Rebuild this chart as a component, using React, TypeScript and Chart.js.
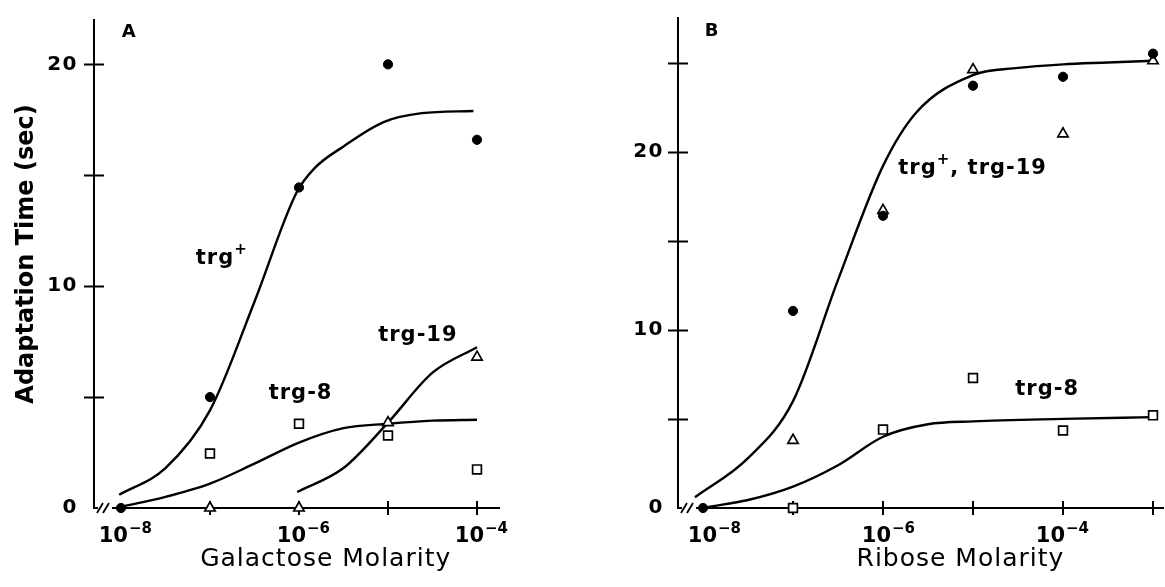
import React, { useEffect, useRef } from 'react';
import { Chart, registerables } from 'chart.js';

Chart.register(...registerables);

// ---------- Panel A : Galactose ----------
// x values are log10(molarity); 10^-8 stands for the break / zero point
const A_CIRCLE_EXP = [-8, -7, -6, -5, -4];
const A_CIRCLE_VAL = [0, 5.0, 14.45, 20.0, 16.6];
const A_SQUARE_EXP = [-7, -6, -5, -4];
const A_SQUARE_VAL = [2.46, 3.8, 3.27, 1.74];
const A_TRI_EXP = [-7, -6, -5, -4];
const A_TRI_VAL = [0, 0, 3.85, 6.8];
const A_PLUS_CURVE_EXP = [-8.02, -7.5, -7, -6.5, -6.03, -5.83, -5.5, -5.05, -4.62, -4.04];
const A_PLUS_CURVE_VAL = [0.6, 1.8, 4.4, 9.3, 14.2, 15.3, 16.3, 17.4, 17.8, 17.9];
const A_T8_CURVE_EXP = [-8, -7.5, -7, -6.5, -6, -5.5, -5, -4.5, -4];
const A_T8_CURVE_VAL = [0.05, 0.5, 1.1, 2.0, 2.95, 3.6, 3.8, 3.94, 3.98];
const A_T19_CURVE_EXP = [-6.02, -5.5, -5, -4.5, -4];
const A_T19_CURVE_VAL = [0.72, 1.8, 3.85, 6.1, 7.25];
const A_Y_TICKS = [0, 5, 10, 15, 20];
const A_Y_LABELS = [0, 10, 20];
const A_X_TICK_EXP = [-8, -7, -6, -5, -4];
const A_X_LABEL_EXP = [-8, -6, -4];

// ---------- Panel B : Ribose ----------
const B_CIRCLE_EXP = [-8, -7, -6, -5, -4, -3];
const B_CIRCLE_VAL = [0, 11.06, 16.4, 23.7, 24.2, 25.5];
const B_TRI_EXP = [-7, -6, -5, -4, -3];
const B_TRI_VAL = [3.8, 16.7, 24.6, 21.0, 25.1];
const B_SQUARE_EXP = [-7, -6, -5, -4, -3];
const B_SQUARE_VAL = [0, 4.4, 7.3, 4.35, 5.2];
const B_PLUS_CURVE_EXP = [-8.09, -7.5, -7, -6.5, -6, -5.63, -5, -4.5, -4, -3.5, -3];
const B_PLUS_CURVE_VAL = [0.6, 2.8, 6.0, 12.8, 19.2, 22.2, 24.3, 24.7, 24.9, 25.0, 25.1];
const B_T8_CURVE_EXP = [-7.95, -7.5, -7, -6.5, -6, -5.5, -5, -4, -3];
const B_T8_CURVE_VAL = [0.05, 0.45, 1.2, 2.4, 4.0, 4.7, 4.86, 5.0, 5.1];
const B_Y_TICKS = [0, 5, 10, 15, 20, 25];
const B_Y_LABELS = [0, 10, 20];
const B_X_TICK_EXP = [-8, -7, -6, -5, -4, -3];
const B_X_LABEL_EXP = [-8, -6, -4];

type Part = { t: string; sup?: boolean };
type Note = { parts: Part[]; exp: number; val: number };

const A_NOTES: Note[] = [
  { parts: [{ t: 'trg' }, { t: '+', sup: true }], exp: -7.16, val: 11.0 },
  { parts: [{ t: 'trg-8' }], exp: -6.34, val: 4.92 },
  { parts: [{ t: 'trg-19' }], exp: -5.11, val: 7.52 },
];
const B_NOTES: Note[] = [
  { parts: [{ t: 'trg' }, { t: '+', sup: true }, { t: ', trg-19' }], exp: -5.83, val: 18.73 },
  { parts: [{ t: 'trg-8' }], exp: -4.53, val: 6.35 },
];

type PointSet = { label: string; exp: number[]; val: number[]; style: string; r: number; fill: string; bw: number };
type CurveSet = { label: string; exp: number[]; val: number[] };

type PanelSpec = {
  left: number;
  width: number;
  xMinExp: number;
  xMaxExp: number;
  yMax: number;
  yTicks: number[];
  yLabels: number[];
  xTickExp: number[];
  xLabelExp: number[];
  xLabelShift: number[];
  points: PointSet[];
  curves: CurveSet[];
  notes: Note[];
  letter: string;
  letterExp: number;
  letterVal: number;
  xTitle: string;
  xTitleExp: number;
  yTitle?: string;
  yWidth: number;
  padTop: number;
  padRight: number;
  yLabelPad: number;
};

const FONT = "'DejaVu Sans', 'Liberation Sans', sans-serif";

const circle = (label: string, exp: number[], val: number[]): PointSet => ({ label, exp, val, style: 'circle', r: 4.6, fill: '#000', bw: 1 });
const square = (label: string, exp: number[], val: number[]): PointSet => ({ label, exp, val, style: 'rect', r: 6.2, fill: '#fff', bw: 1.7 });
const triangle = (label: string, exp: number[], val: number[]): PointSet => ({ label, exp, val, style: 'triangle', r: 6, fill: '#fff', bw: 1.7 });

const PANEL_A: PanelSpec = {
  left: 0,
  width: 580,
  xMinExp: -8.303,
  xMaxExp: -3.753,
  yMax: 22,
  yTicks: A_Y_TICKS,
  yLabels: A_Y_LABELS,
  xTickExp: A_X_TICK_EXP,
  xLabelExp: A_X_LABEL_EXP,
  xLabelShift: [5, 5, 5],
  points: [
    circle('trg+', A_CIRCLE_EXP, A_CIRCLE_VAL),
    square('trg-8', A_SQUARE_EXP, A_SQUARE_VAL),
    triangle('trg-19', A_TRI_EXP, A_TRI_VAL),
  ],
  curves: [
    { label: 'trg+ fit', exp: A_PLUS_CURVE_EXP, val: A_PLUS_CURVE_VAL },
    { label: 'trg-8 fit', exp: A_T8_CURVE_EXP, val: A_T8_CURVE_VAL },
    { label: 'trg-19 fit', exp: A_T19_CURVE_EXP, val: A_T19_CURVE_VAL },
  ],
  notes: A_NOTES,
  letter: 'A',
  letterExp: -7.99,
  letterVal: 21.25,
  xTitle: 'Galactose Molarity',
  xTitleExp: -5.7,
  yTitle: 'Adaptation Time (sec)',
  yWidth: 94,
  padTop: 17,
  padRight: 81,
  yLabelPad: 8,
};

const PANEL_B: PanelSpec = {
  left: 580,
  width: 585,
  xMinExp: -8.278,
  xMaxExp: -2.889,
  yMax: 27.5,
  yTicks: B_Y_TICKS,
  yLabels: B_Y_LABELS,
  xTickExp: B_X_TICK_EXP,
  xLabelExp: B_X_LABEL_EXP,
  xLabelShift: [12, 6, 0],
  points: [
    circle('trg+', B_CIRCLE_EXP, B_CIRCLE_VAL),
    triangle('trg-19', B_TRI_EXP, B_TRI_VAL),
    square('trg-8', B_SQUARE_EXP, B_SQUARE_VAL),
  ],
  curves: [
    { label: 'trg+, trg-19 fit', exp: B_PLUS_CURVE_EXP, val: B_PLUS_CURVE_VAL },
    { label: 'trg-8 fit', exp: B_T8_CURVE_EXP, val: B_T8_CURVE_VAL },
  ],
  notes: B_NOTES,
  letter: 'B',
  letterExp: -7.98,
  letterVal: 26.48,
  xTitle: 'Ribose Molarity',
  xTitleExp: -5.14,
  yWidth: 98,
  padTop: 15,
  padRight: 2,
  yLabelPad: 6,
};

function drawParts(ctx: CanvasRenderingContext2D, parts: Part[], x: number, y: number, size: number, ls: number) {
  let cx = x;
  ctx.textAlign = 'left';
  ctx.textBaseline = 'alphabetic';
  for (const p of parts) {
    if (p.sup) {
      ctx.font = `bold ${Math.round(size * 0.72)}px ${FONT}`;
      ctx.letterSpacing = `${ls}px`;
      ctx.fillText(p.t, cx, y - size * 0.5);
      cx += ctx.measureText(p.t).width;
    } else {
      ctx.font = `bold ${size}px ${FONT}`;
      ctx.letterSpacing = `${ls}px`;
      ctx.fillText(p.t, cx, y);
      cx += ctx.measureText(p.t).width;
    }
  }
}

function makeDecor(spec: PanelSpec) {
  return {
    id: 'panelDecor',
    beforeDraw(chart: any) {
      chart.ctx.letterSpacing = '1.5px';
    },
    beforeDatasetsDraw(chart: any) {
      const { ctx, chartArea, scales } = chart;
      const x = scales.x;
      const y = scales.y;
      const { left, bottom } = chartArea;
      ctx.save();
      ctx.strokeStyle = '#000';
      ctx.lineWidth = 2;
      ctx.beginPath();
      for (const v of spec.yTicks) {
        if (v === 0) continue;
        const py = Math.round(y.getPixelForValue(v)) + 0.5;
        ctx.moveTo(left - 10, py);
        ctx.lineTo(left + 10, py);
      }
      for (const e of spec.xTickExp) {
        if (e === spec.xTickExp[0]) continue;
        const px = Math.round(x.getPixelForValue(Math.pow(10, e)));
        ctx.moveTo(px, bottom - 7);
        ctx.lineTo(px, bottom + 7);
      }
      ctx.stroke();
      // axis break
      ctx.fillStyle = '#fff';
      ctx.fillRect(left + 4, bottom - 4, 14, 8);
      ctx.lineWidth = 1.8;
      ctx.beginPath();
      ctx.moveTo(left + 3, bottom + 5);
      ctx.lineTo(left + 9, bottom - 5);
      ctx.moveTo(left + 9, bottom + 5);
      ctx.lineTo(left + 15, bottom - 5);
      ctx.stroke();
      ctx.restore();
    },
    afterDraw(chart: any) {
      const { ctx, chartArea, scales } = chart;
      const x = scales.x;
      const y = scales.y;
      const { top, bottom, left } = chartArea;
      ctx.save();
      ctx.fillStyle = '#000';
      // x tick labels with superscript exponents
      spec.xLabelExp.forEach((e, i) => {
        const c = x.getPixelForValue(Math.pow(10, e)) + spec.xLabelShift[i];
        ctx.letterSpacing = '0px';
        ctx.textBaseline = 'alphabetic';
        ctx.font = `bold 21px ${FONT}`;
        ctx.textAlign = 'right';
        ctx.fillText('10', c + 2, bottom + 34);
        ctx.font = `bold 15px ${FONT}`;
        ctx.textAlign = 'left';
        ctx.fillText('\u2212' + Math.abs(e), c + 3, bottom + 25);
      });
      // annotations
      for (const n of spec.notes) {
        const px = x.getPixelForValue(Math.pow(10, n.exp));
        const py = y.getPixelForValue(n.val);
        drawParts(ctx, n.parts, px, py, 21, 1);
      }
      // panel letter
      ctx.letterSpacing = '0px';
      ctx.font = `bold 18px ${FONT}`;
      ctx.textAlign = 'left';
      ctx.fillText(spec.letter, x.getPixelForValue(Math.pow(10, spec.letterExp)), y.getPixelForValue(spec.letterVal));
      // x title
      ctx.font = `25px ${FONT}`;
      ctx.letterSpacing = '1px';
      ctx.textAlign = 'center';
      ctx.fillText(spec.xTitle, x.getPixelForValue(Math.pow(10, spec.xTitleExp)), bottom + 58);
      // y title
      if (spec.yTitle) {
        ctx.save();
        ctx.font = `bold 24px ${FONT}`;
        ctx.letterSpacing = '0px';
        ctx.translate(left - 61, (top + bottom) / 2 - 10);
        ctx.rotate(-Math.PI / 2);
        ctx.textAlign = 'center';
        ctx.fillText(spec.yTitle, 0, 0);
        ctx.restore();
      }
      ctx.restore();
      ctx.letterSpacing = '0px';
    },
  };
}

function buildConfig(spec: PanelSpec): any {
  const pts = (exps: number[], vals: number[]) => exps.map((e, i) => ({ x: Math.pow(10, e), y: vals[i] }));
  const datasets: any[] = [
    ...spec.points.map((p) => ({
      type: 'scatter',
      label: p.label,
      data: pts(p.exp, p.val),
      pointStyle: p.style,
      pointRadius: p.r,
      pointBackgroundColor: p.fill,
      pointBorderColor: '#000',
      pointBorderWidth: p.bw,
      showLine: false,
      clip: false,
      order: 0,
    })),
    ...spec.curves.map((c) => ({
      type: 'line',
      label: c.label,
      data: pts(c.exp, c.val),
      borderColor: '#000',
      borderWidth: 2.4,
      pointRadius: 0,
      cubicInterpolationMode: 'monotone',
      fill: false,
      clip: false,
      order: 1,
    })),
  ];
  return {
    type: 'scatter',
    data: { datasets },
    options: {
      animation: false,
      responsive: false,
      maintainAspectRatio: false,
      devicePixelRatio: 1,
      events: [],
      layout: { autoPadding: false, padding: { top: spec.padTop, right: spec.padRight, left: 0, bottom: 0 } },
      plugins: { legend: { display: false }, tooltip: { enabled: false }, title: { display: false } },
      scales: {
        x: {
          type: 'logarithmic',
          position: 'bottom',
          bounds: 'data',
          min: Math.pow(10, spec.xMinExp),
          max: Math.pow(10, spec.xMaxExp),
          grid: { display: false },
          border: { display: true, color: '#000', width: 2 },
          ticks: { display: false },
          afterBuildTicks: (s: any) => {
            s.ticks = spec.xTickExp.map((e) => ({ value: Math.pow(10, e) }));
          },
          afterFit: (s: any) => {
            s.height = 79;
          },
        },
        y: {
          type: 'linear',
          position: 'left',
          min: 0,
          max: spec.yMax,
          grid: { display: false },
          border: { display: true, color: '#000', width: 2 },
          ticks: {
            color: '#000',
            font: { family: FONT, size: 20, weight: 'bold' },
            padding: spec.yLabelPad,
            callback: (v: any) => (spec.yLabels.includes(Number(v)) ? String(v) : ''),
          },
          afterBuildTicks: (s: any) => {
            s.ticks = spec.yTicks.map((v) => ({ value: v }));
          },
          afterFit: (s: any) => {
            s.width = spec.yWidth;
          },
        },
      },
    },
    plugins: [makeDecor(spec)],
  };
}

function Panel({ spec }: { spec: PanelSpec }) {
  const ref = useRef<HTMLCanvasElement>(null);
  useEffect(() => {
    if (!ref.current) return;
    const chart = new Chart(ref.current, buildConfig(spec));
    return () => chart.destroy();
  }, [spec]);
  return (
    <canvas
      ref={ref}
      width={spec.width}
      height={587}
      style={{ position: 'absolute', left: spec.left, top: 0, width: spec.width, height: 587, display: 'block' }}
    />
  );
}

export default function App() {
  return (
    <div style={{ position: 'fixed', left: 0, top: 0, width: 1165, height: 587, background: '#fff', overflow: 'hidden' }}>
      <Panel spec={PANEL_A} />
      <Panel spec={PANEL_B} />
    </div>
  );
}
